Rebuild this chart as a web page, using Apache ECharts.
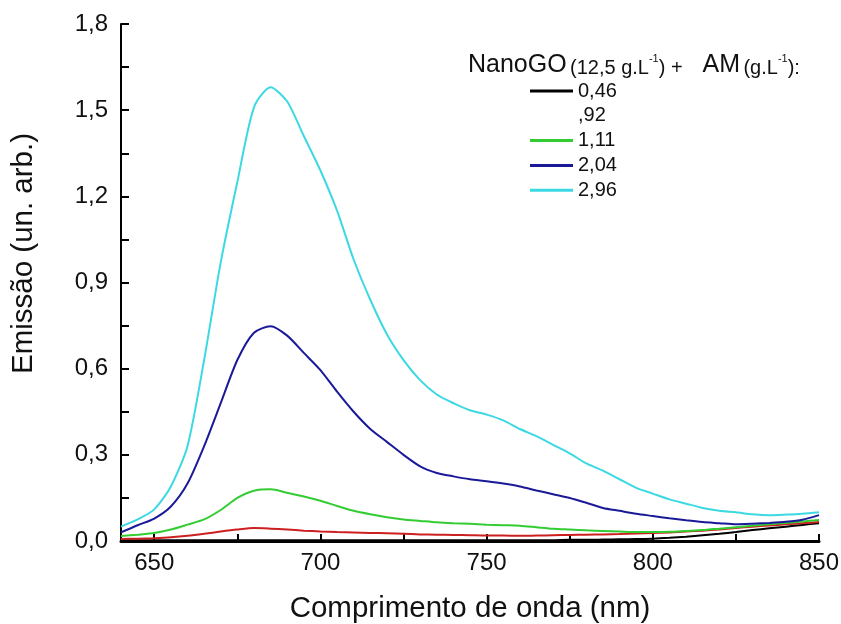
<!DOCTYPE html>
<html>
<head>
<meta charset="utf-8">
<script src="https://cdn.jsdelivr.net/npm/echarts@6/dist/echarts.min.js"></script>
<style>html,body{margin:0;padding:0;background:#fff}#c{width:841px;height:624px}</style>
</head>
<body>
<div id="c"></div>
<script>
const wavelengths = [640,645,650,655,660,665,670,675,680,685,690,695,700,705,710,715,720,725,730,735,740,745,750,755,760,765,770,775,780,785,790,795,800,805,810,815,820,825,830,835,840,845,850];
const am046 = [0.003,0.003,0.003,0.003,0.003,0.003,0.003,0.003,0.003,0.003,0.003,0.003,0.003,0.003,0.003,0.003,0.003,0.003,0.003,0.003,0.003,0.003,0.003,0.003,0.003,0.003,0.003,0.004,0.004,0.005,0.006,0.007,0.008,0.011,0.015,0.02,0.025,0.031,0.038,0.044,0.05,0.056,0.062];
const am092 = [0.007,0.008,0.01,0.013,0.018,0.025,0.033,0.04,0.045,0.043,0.04,0.036,0.033,0.031,0.03,0.028,0.027,0.025,0.023,0.022,0.021,0.02,0.019,0.019,0.018,0.019,0.02,0.021,0.022,0.023,0.024,0.026,0.028,0.03,0.033,0.036,0.04,0.045,0.05,0.054,0.058,0.062,0.066];
const am111 = [0.017,0.022,0.028,0.04,0.057,0.075,0.108,0.15,0.175,0.18,0.168,0.155,0.14,0.122,0.105,0.093,0.083,0.075,0.07,0.065,0.062,0.06,0.057,0.055,0.053,0.048,0.043,0.04,0.037,0.035,0.033,0.031,0.031,0.032,0.035,0.038,0.043,0.048,0.053,0.058,0.063,0.068,0.073];
const am204 = [0.03,0.055,0.078,0.12,0.2,0.33,0.48,0.63,0.725,0.748,0.715,0.655,0.595,0.52,0.45,0.39,0.345,0.3,0.26,0.237,0.225,0.215,0.208,0.2,0.19,0.176,0.163,0.15,0.133,0.115,0.105,0.095,0.087,0.079,0.072,0.066,0.062,0.058,0.06,0.063,0.067,0.074,0.09];
const am296 = [0.05,0.075,0.11,0.19,0.33,0.63,0.97,1.25,1.51,1.58,1.53,1.41,1.29,1.15,0.98,0.84,0.72,0.63,0.56,0.51,0.48,0.455,0.44,0.42,0.39,0.365,0.335,0.305,0.27,0.245,0.215,0.185,0.165,0.145,0.13,0.115,0.105,0.1,0.093,0.09,0.092,0.095,0.1];
const seriesNames = ['0,46', ',92', '1,11', '2,04', '2,96'];
const seriesColors = ['#000000', '#cc2020', '#33cc33', '#1a1a99', '#3cd9e3'];
const seriesValues = [am046, am092, am111, am204, am296];
const xTickLabels = [650, 700, 750, 800, 850];
const xMinorTicks = [650, 675, 700, 725, 750, 775, 800, 825, 850];

const FONT = '"Liberation Sans", Arial, sans-serif';
const chart = echarts.init(document.getElementById('c'), null, {renderer: 'canvas'});

const series = seriesValues.map((vals, i) => ({
  name: seriesNames[i],
  type: 'line',
  data: wavelengths.map((w, j) => [w, vals[j]]),
  showSymbol: false,
  symbol: 'none',
  smooth: 0.25,
  lineStyle: {width: 2, color: seriesColors[i]},
  itemStyle: {color: seriesColors[i]},
  z: 2 + i,
  animation: false
}));

chart.setOption({
  animation: false,
  backgroundColor: '#ffffff',
  grid: {left: 121, right: 22, top: 24, bottom: 83, containLabel: false, outerBoundsMode: 'none'},
  xAxis: {
    type: 'value', min: 640, max: 850,
    name: 'Comprimento de onda (nm)', nameLocation: 'middle', nameGap: 53,
    nameTextStyle: {fontFamily: FONT, fontSize: 29.5, color: '#111'},
    axisLine: {show: true, lineStyle: {color: '#000', width: 3}},
    axisTick: {show: true, inside: true, length: 7, lineStyle: {color: '#000', width: 2}, customValues: xMinorTicks},
    axisLabel: {fontFamily: FONT, fontSize: 24, color: '#111', margin: 10, customValues: xTickLabels},
    splitLine: {show: false}
  },
  yAxis: {
    type: 'value', min: 0, max: 1.8, interval: 0.3,
    name: 'Emissão (un. arb.)', nameLocation: 'middle', nameGap: 82,
    nameTextStyle: {fontFamily: FONT, fontSize: 29.5, color: '#111', padding: [0, 0, 0, 58]},
    axisLine: {show: true, lineStyle: {color: '#000', width: 2}},
    axisTick: {show: true, inside: true, length: 8, lineStyle: {color: '#000', width: 2}},
    minorTick: {show: true, splitNumber: 2, length: 8, lineStyle: {color: '#000', width: 2}},
    axisLabel: {fontFamily: FONT, fontSize: 24, color: '#111', margin: 13,
      formatter: v => v.toFixed(1).replace('.', ',')},
    splitLine: {show: false}
  },
  legend: {
    orient: 'vertical', left: 530, top: 81, padding: 0,
    itemWidth: 43, itemHeight: 3, itemGap: 4.8,
    icon: 'rect',
    textStyle: {fontFamily: FONT, fontSize: 20, lineHeight: 20, color: '#111'},
    data: seriesNames.map((n, i) => i === 1 ? {name: n, itemStyle: {opacity: 0}, lineStyle: {opacity: 0}} : {name: n}),
    selectedMode: false
  },
  graphic: [{
    type: 'text', left: 468, top: 53,
    style: {
      text: '{big|NanoGO} {small|(12,5 g.L}{sup|-1}{small|) +}{gap| }{big|AM} {small|(g.L}{sup|-1}{small|):}',
      rich: {
        big: {fontFamily: FONT, fontSize: 25, fill: '#111', verticalAlign: 'bottom'},
        small: {fontFamily: FONT, fontSize: 20, fill: '#111', verticalAlign: 'bottom'},
        sup: {fontFamily: FONT, fontSize: 11, fill: '#111', verticalAlign: 'top'},
        gap: {fontFamily: FONT, fontSize: 20, width: 20}
      }
    }
  }],
  series: series
});
</script>
</body>
</html>
